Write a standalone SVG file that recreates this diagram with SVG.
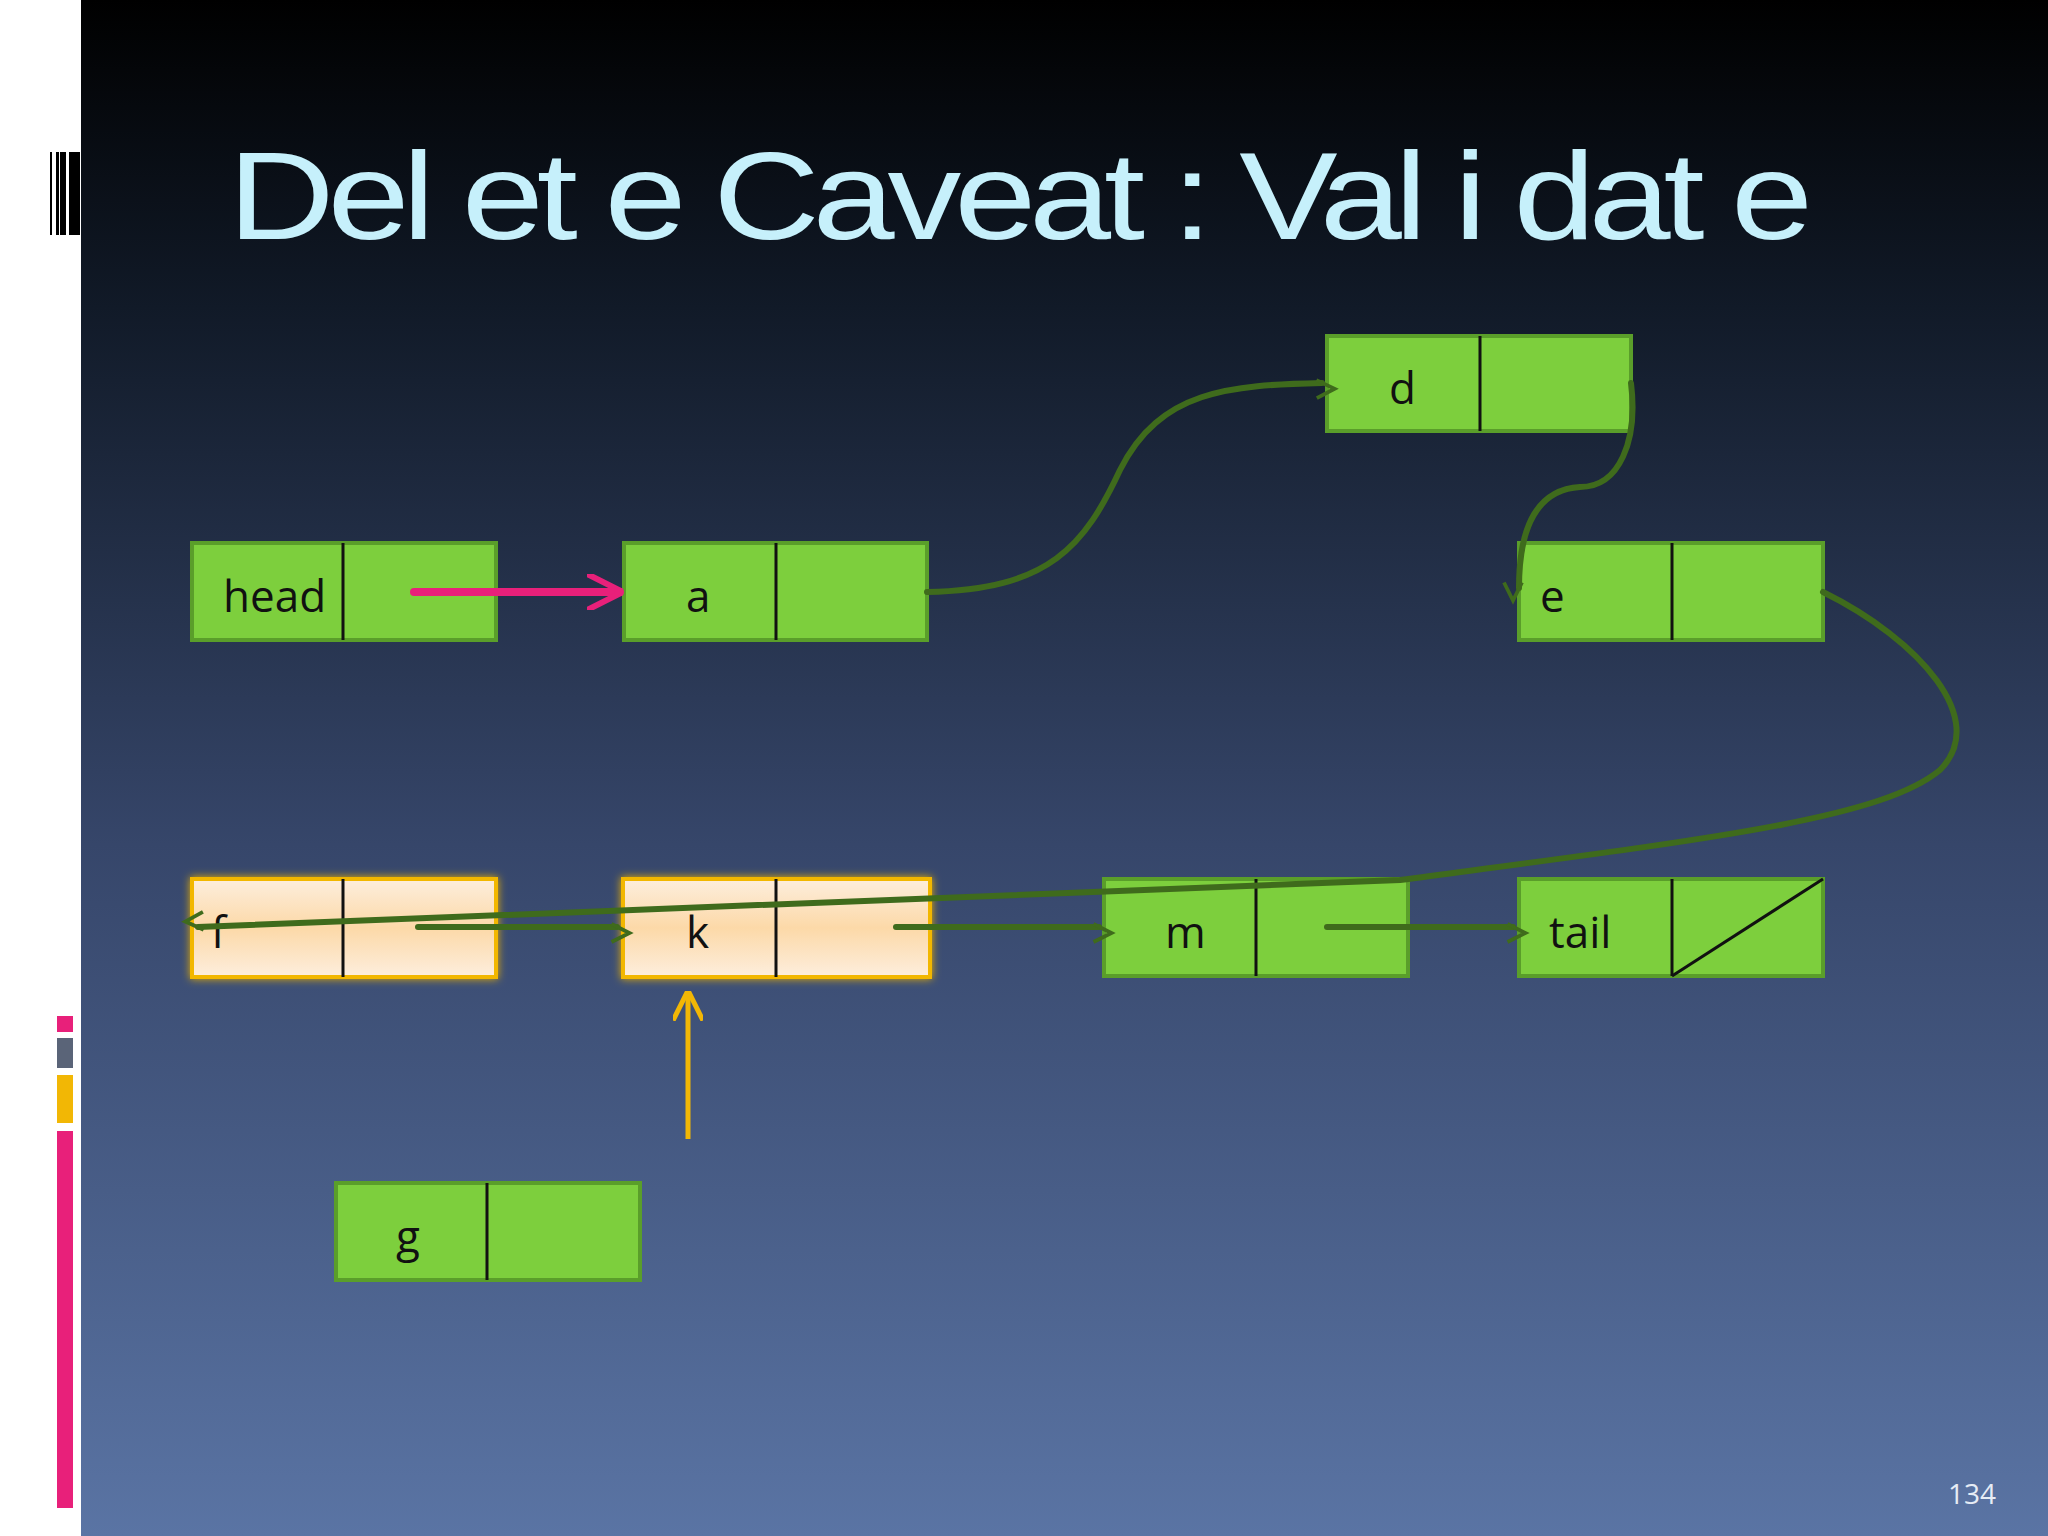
<svg xmlns="http://www.w3.org/2000/svg" width="2048" height="1536" viewBox="0 0 2048 1536">
<style>
.g{fill:#7dcf3d;stroke:#5a9e2a;stroke-width:4}
.o{fill:url(#og);stroke:#f2b705;stroke-width:4;filter:url(#glow)}
.dv{stroke:#111;stroke-width:3}
.t{font-family:"Open Sans","DejaVu Sans",sans-serif;font-size:44px;fill:#111}
.c{fill:none;stroke:#3f6b1c;stroke-width:6;stroke-linecap:round}
</style>
<defs>
<linearGradient id="bg" x1="0" y1="0" x2="0" y2="1">
<stop offset="0" stop-color="#000"/><stop offset="0.2" stop-color="#111a28"/><stop offset="0.55" stop-color="#36466a"/><stop offset="1" stop-color="#5a74a4"/>
</linearGradient>
<linearGradient id="og" x1="0" y1="0" x2="0" y2="1">
<stop offset="0" stop-color="#fdeedd"/><stop offset="0.5" stop-color="#fcd9a8"/><stop offset="1" stop-color="#fdeedd"/>
</linearGradient>
<filter id="glow" x="-10%" y="-20%" width="120%" height="140%"><feGaussianBlur in="SourceAlpha" stdDeviation="4" result="b"/><feFlood flood-color="#e8b000"/><feComposite in2="b" operator="in"/><feMerge><feMergeNode/><feMergeNode in="SourceGraphic"/></feMerge></filter>
<marker id="ah" viewBox="0 0 12 12" refX="11" refY="6" markerWidth="6" markerHeight="6" orient="auto" markerUnits="userSpaceOnUse" style="overflow:visible"><path d="M0,0 L12,6 L0,12" fill="none" stroke="#3f6b1c" stroke-width="2.5" transform="scale(3)"/></marker>
<marker id="ap" viewBox="0 0 12 12" refX="11" refY="6" markerWidth="36" markerHeight="36" orient="auto" markerUnits="userSpaceOnUse"><path d="M0,0 L12,6 L0,12" fill="none" stroke="#e8207a" stroke-width="2"/></marker>
<marker id="ao" viewBox="0 0 12 12" refX="11" refY="6" markerWidth="30" markerHeight="30" orient="auto" markerUnits="userSpaceOnUse"><path d="M0,0 L12,6 L0,12" fill="none" stroke="#f2b705" stroke-width="2"/></marker>
</defs>
<rect width="2048" height="1536" fill="#fff"/>
<rect x="81" width="1967" height="1536" fill="url(#bg)"/>
<g fill="#000"><rect x="50" y="152" width="2" height="83"/><rect x="56" y="152" width="3" height="83"/><rect x="60" y="152" width="6" height="83"/><rect x="69" y="152" width="11" height="83"/></g>
<g><rect x="57" y="1016" width="16" height="16" fill="#e8207a"/><rect x="57" y="1038" width="16" height="30" fill="#5a6478"/><rect x="57" y="1075" width="16" height="48" fill="#f2b705"/><rect x="57" y="1131" width="16" height="377" fill="#e8207a"/></g>
<text x="228" y="239" font-family="Liberation Sans,Arial,sans-serif" font-size="124" fill="#c6f0fb" textLength="1578" lengthAdjust="spacingAndGlyphs" letter-spacing="-6">Del et e  Caveat :  Val i dat e</text>
<g id="head"><rect class="g" x="192" y="543" width="304" height="97"/><line class="dv" x1="343" y1="543" x2="343" y2="640"/><text class="t" x="223" y="612">head</text></g>
<g id="a"><rect class="g" x="624" y="543" width="303" height="97"/><line class="dv" x1="776" y1="543" x2="776" y2="640"/><text class="t" x="686" y="612">a</text></g>
<g id="d"><rect class="g" x="1327" y="336" width="304" height="95"/><line class="dv" x1="1480" y1="336" x2="1480" y2="431"/><text class="t" x="1389" y="404">d</text></g>
<g id="e"><rect class="g" x="1519" y="543" width="304" height="97"/><line class="dv" x1="1672" y1="543" x2="1672" y2="640"/><text class="t" x="1540" y="612">e</text></g>
<g id="f"><rect class="o" x="192" y="879" width="304" height="98"/><line class="dv" x1="343" y1="879" x2="343" y2="977"/><text class="t" x="211" y="948">f</text></g>
<g id="k"><rect class="o" x="623" y="879" width="307" height="98"/><line class="dv" x1="776" y1="879" x2="776" y2="977"/><text class="t" x="686" y="948">k</text></g>
<g id="m"><rect class="g" x="1104" y="879" width="304" height="97"/><line class="dv" x1="1256" y1="879" x2="1256" y2="976"/><text class="t" x="1165" y="948">m</text></g>
<g id="tail"><rect class="g" x="1519" y="879" width="304" height="97"/><line class="dv" x1="1672" y1="879" x2="1672" y2="976"/><line class="dv" x1="1672" y1="976" x2="1823" y2="879" stroke-width="2"/><text class="t" x="1549" y="948">tail</text></g>
<g id="g"><rect class="g" x="336" y="1183" width="304" height="97"/><line class="dv" x1="487" y1="1183" x2="487" y2="1280"/><text class="t" x="396" y="1252">g</text></g>
<g id="connectors">
<line x1="414" y1="592" x2="620" y2="592" stroke="#e8207a" stroke-width="8" stroke-linecap="round" marker-end="url(#ap)"/>
<path class="c" d="M927,592 C1050,590 1085,545 1120,470 C1160,390 1230,385 1322,383" marker-end="url(#ah)"/>
<path class="c" d="M1631,383 C1638,440 1620,487 1580,487 C1530,490 1519,540 1519,588" marker-end="url(#ah)"/>
<path class="c" d="M1823,592 C1920,640 1990,720 1940,770 C1880,820 1700,840 1400,880 L198,927" marker-end="url(#ah)"/>
<line class="c" x1="418" y1="927" x2="617" y2="927" stroke-width="9" marker-end="url(#ah)"/>
<line class="c" x1="896" y1="927" x2="1099" y2="927" marker-end="url(#ah)"/>
<line class="c" x1="1327" y1="927" x2="1513" y2="927" marker-end="url(#ah)"/>
<line x1="688" y1="1139" x2="688" y2="993" stroke="#f2b705" stroke-width="5" marker-end="url(#ao)"/>
</g>
<text x="1972" y="1504" font-family="Open Sans,DejaVu Sans,sans-serif" font-size="28" fill="#e6ecf5" text-anchor="middle">134</text>
</svg>
